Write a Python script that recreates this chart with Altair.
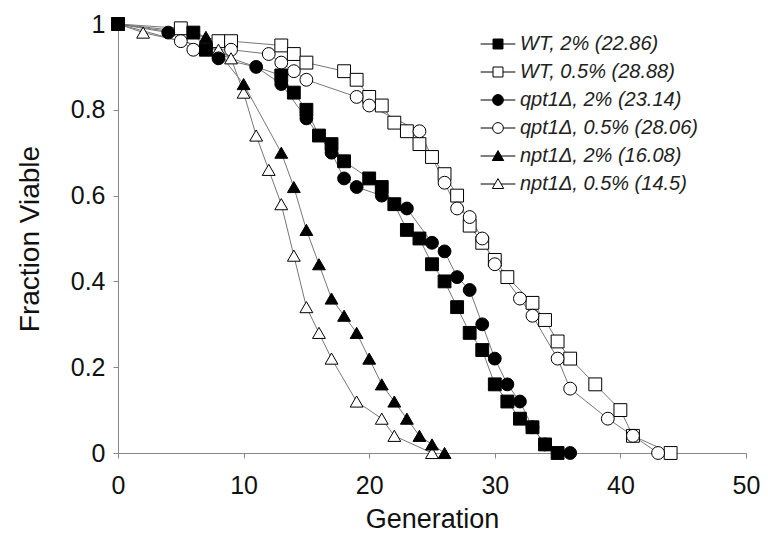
import altair as alt
import pandas as pd

series_names = ["WT, 2% (22.86)", "WT, 0.5% (28.88)", "qpt1Δ, 2% (23.14)",
                "qpt1Δ, 0.5% (28.06)", "npt1Δ, 2% (16.08)", "npt1Δ, 0.5% (14.5)"]

wt2_gen = [0, 6, 7, 13, 14, 15, 16, 17, 18, 20, 21, 22, 23, 24, 25, 26, 27, 28, 29, 30, 31, 32, 33, 34, 35]
wt2_frac = [1.0, 0.98, 0.94, 0.88, 0.84, 0.80, 0.74, 0.72, 0.68, 0.64, 0.62, 0.58, 0.52, 0.50, 0.44,
            0.40, 0.34, 0.28, 0.24, 0.16, 0.12, 0.08, 0.06, 0.02, 0.0]

wt05_gen = [0, 5, 8, 9, 13, 14, 15, 18, 19, 20, 21, 22, 23, 24, 25, 26, 27, 28, 29, 30, 31, 33, 34,
            35, 36, 38, 40, 41, 44]
wt05_frac = [1.0, 0.99, 0.96, 0.96, 0.95, 0.93, 0.91, 0.89, 0.87, 0.83, 0.81, 0.77, 0.75, 0.72, 0.69,
             0.65, 0.60, 0.53, 0.49, 0.45, 0.41, 0.35, 0.31, 0.26, 0.22, 0.16, 0.10, 0.04, 0.0]

qpt2_gen = [0, 4, 8, 11, 13, 15, 17, 18, 19, 21, 23, 25, 26, 27, 28, 29, 30, 31, 32, 33, 34, 36]
qpt2_frac = [1.0, 0.98, 0.92, 0.90, 0.86, 0.78, 0.70, 0.64, 0.62, 0.60, 0.57, 0.49, 0.47, 0.41, 0.38,
             0.30, 0.22, 0.16, 0.12, 0.06, 0.02, 0.0]

qpt05_gen = [0, 5, 6, 9, 12, 13, 14, 15, 19, 20, 24, 26, 27, 28, 29, 30, 32, 33, 35, 36, 39, 41, 43]
qpt05_frac = [1.0, 0.96, 0.94, 0.94, 0.93, 0.91, 0.89, 0.87, 0.83, 0.81, 0.75, 0.63, 0.57, 0.55, 0.50,
              0.44, 0.36, 0.32, 0.22, 0.15, 0.08, 0.04, 0.0]

npt2_gen = [0, 7, 10, 13, 14, 15, 16, 17, 18, 19, 20, 21, 22, 23, 24, 25, 26]
npt2_frac = [1.0, 0.97, 0.86, 0.70, 0.62, 0.52, 0.44, 0.36, 0.32, 0.28, 0.22, 0.16, 0.12, 0.08, 0.04,
             0.02, 0.0]

npt05_gen = [0, 2, 8, 9, 10, 11, 12, 13, 14, 15, 16, 17, 19, 21, 22, 25]
npt05_frac = [1.0, 0.98, 0.94, 0.92, 0.84, 0.74, 0.66, 0.58, 0.46, 0.34, 0.28, 0.22, 0.12, 0.08, 0.04, 0.0]

gens = [wt2_gen, wt05_gen, qpt2_gen, qpt05_gen, npt2_gen, npt05_gen]
fracs = [wt2_frac, wt05_frac, qpt2_frac, qpt05_frac, npt2_frac, npt05_frac]

shapes = ["square", "square", "circle", "circle", "triangle-up", "triangle-up"]
fills = ["black", "white", "black", "white", "black", "white"]
strokes = ["black"] * 6

legend_paths = [
    "M-2.9,0H-0.83M0.83,0H2.9M-0.83,-0.83H0.83V0.83H-0.83Z",
    "M-2.9,0H-0.83M0.83,0H2.9M-0.83,-0.83H0.83V0.83H-0.83Z",
    "M-2.9,0H-0.9M0.9,0H2.9M-0.9,0A0.9,0.9,0,1,0,0.9,0A0.9,0.9,0,1,0,-0.9,0Z",
    "M-2.9,0H-0.9M0.9,0H2.9M-0.9,0A0.9,0.9,0,1,0,0.9,0A0.9,0.9,0,1,0,-0.9,0Z",
    "M-2.9,0H-0.5M0.5,0H2.9M0,-0.9L0.95,0.75H-0.95Z",
    "M-2.9,0H-0.5M0.5,0H2.9M0,-0.9L0.95,0.75H-0.95Z",
]

rows = []
draw_order = [1, 3, 5, 2, 0, 4]
for rank, i in enumerate(draw_order):
    for g, f in zip(gens[i], fracs[i]):
        rows.append({"series": series_names[i], "gen": g, "frac": f, "rank": rank})
df = pd.DataFrame(rows)

FONT = "Liberation Sans"

legend = alt.Legend(
    title=None, orient="none", legendX=370, legendY=10, padding=0,
    labelFont=FONT, labelFontSize=20, labelFontStyle="italic", labelColor="#222",
    labelOffset=12, labelLimit=400, symbolSize=144, rowPadding=8, symbolOpacity=1,
    symbolStrokeColor="black", symbolStrokeWidth=1,
)

x_enc = alt.X("gen:Q", scale=alt.Scale(domain=[0, 50], nice=False, zero=False),
              axis=alt.Axis(values=[0, 10, 20, 30, 40, 50], format="d", title="Generation",
                            grid=False, labelFlush=False, labelFont=FONT, labelFontSize=25,
                            labelColor="#111", titleFont=FONT, titleFontSize=27,
                            titleFontWeight="normal", titleColor="#111", domainColor="#888",
                            tickColor="#888", tickSize=5, labelPadding=15, titlePadding=8))
y_enc = alt.Y("frac:Q", scale=alt.Scale(domain=[0, 1], nice=False),
              axis=alt.Axis(values=[0, 0.2, 0.4, 0.6, 0.8, 1.0], format=".1~f",
                            title="Fraction Viable", grid=False, labelFlush=False, labelFont=FONT,
                            labelFontSize=25, labelColor="#111", titleFont=FONT,
                            titleFontSize=28, titleFontWeight="normal", titleColor="#111",
                            domainColor="#888", tickColor="#888", tickSize=5,
                            labelPadding=8, titlePadding=26))

base = alt.Chart(df)

lines = base.mark_line(color="#777", strokeWidth=1).encode(
    x=x_enc, y=y_enc, detail="series:N", order="gen:Q")

points = base.mark_point(filled=True, size=165, stroke="black", strokeWidth=1, opacity=1).encode(
    x=x_enc, y=y_enc,
    shape=alt.Shape("series:N", scale=alt.Scale(domain=series_names, range=shapes), legend=None),
    fill=alt.Fill("series:N", scale=alt.Scale(domain=series_names, range=fills), legend=None),
    order="rank:Q",
)

legend_layer = base.mark_point(filled=True, size=144, strokeWidth=1, opacity=0).encode(
    x=x_enc, y=y_enc,
    shape=alt.Shape("series:N", scale=alt.Scale(domain=series_names, range=legend_paths), legend=legend),
    fill=alt.Fill("series:N", scale=alt.Scale(domain=series_names, range=fills), legend=legend),
    stroke=alt.Stroke("series:N", scale=alt.Scale(domain=series_names, range=strokes), legend=legend),
)

chart = alt.layer(lines, points, legend_layer).resolve_scale(
    shape="independent", fill="independent", stroke="independent"
).properties(
    width=628, height=429,
    padding={"left": 110, "top": 16, "right": 14, "bottom": 90},
    autosize="none",
).configure_view(stroke=None)

chart.save("out.html", embed_options={"renderer": "svg", "actions": False})
